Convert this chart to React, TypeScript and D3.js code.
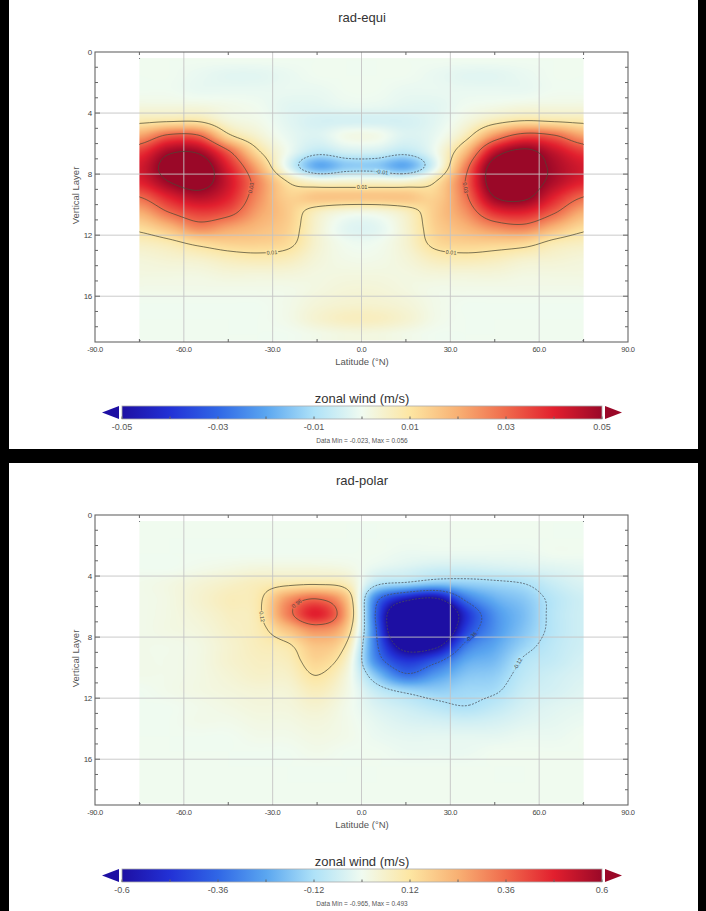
import React, { useEffect, useRef } from 'react';
import * as d3 from 'd3';

// grid the model field is stored on
const lats = [-75, -65, -55, -45, -35, -25, -15, -5, 5, 15, 25, 35, 45, 55, 65, 75];
const layers = [0.5, 1.5, 2.5, 3.5, 4.5, 5.5, 6.5, 7.5, 8.5, 9.5, 10.5, 11.5, 12.5, 13.5, 14.5, 15.5, 16.5, 17.5, 18.5];
const latExtent = [-75, 75];
const layerExtent = [0.4, 18.9];

// zonal wind, rad-equi run (x 0.001 m/s), one row per layer
const equiWind = [
  [0, 0, 0, 0, 0, 0, 0, 0, 0, 0, 0, 0, 0, 0, 0, 0],
  [0, 0, -1, -2, -2, -1, 0, 0, 0, 0, -1, -2, -2, -1, 0, 0],
  [0, 0, -1, -1, -1, -1, -1, 0, 0, -1, -1, -1, -1, -1, 0, 0],
  [2, 2, 2, 1, 0, -2, -2, -1, -1, -2, -2, 0, 1, 2, 2, 2],
  [8, 9, 9, 3, 1, -2, -4, -4, -4, -4, -2, 2, 7, 10, 9, 8],
  [22, 32, 31, 12, 4, -1, -3, 1, 1, -3, -1, 7, 24, 34, 31, 22],
  [36, 48, 48, 31, 11, 0, -7, -4, -4, -7, 0, 17, 44, 52, 44, 36],
  [42, 54, 56, 40, 20, -2, -19, -14, -14, -19, -2, 26, 55, 56, 48, 42],
  [40, 50, 54, 43, 26, 10, 4, 4, 4, 4, 10, 30, 56, 56, 47, 40],
  [30, 40, 46, 40, 25, 14, 16, 16, 16, 16, 14, 28, 50, 52, 40, 30],
  [20, 30, 36, 33, 22, 15, 6, 2, 2, 6, 15, 24, 38, 40, 31, 20],
  [12, 18, 26, 22, 18, 14, 4, -2, -2, 4, 14, 19, 25, 27, 19, 12],
  [6, 8, 12, 14, 14, 12, 4, 0, 0, 4, 12, 14, 14, 13, 8, 6],
  [3, 4, 5, 7, 8, 7, 3, 1, 1, 3, 7, 8, 7, 5, 4, 3],
  [2, 2, 2, 3, 3, 3, 2, 2, 2, 2, 3, 3, 3, 2, 2, 2],
  [1, 1, 1, 1, 1, 1, 2, 3, 3, 2, 1, 1, 1, 1, 1, 1],
  [0, 0, 0, 0, 0, 1, 3, 4, 4, 3, 1, 0, 0, 0, 0, 0],
  [0, 0, 0, 0, 0, 1, 4, 6, 6, 4, 1, 0, 0, 0, 0, 0],
  [0, 0, 0, 0, 0, 0, 1, 2, 2, 1, 0, 0, 0, 0, 0, 0],
];

// zonal wind, rad-polar run (x 0.01 m/s)
const polarWind = [
  [0, 0, 0, 0, 0, 0, 0, 0, 0, 0, 0, 0, 0, 0, 0, 0],
  [0, 0, 0, 0, 0, 0, 0, 0, 0, 0, 0, 0, 0, 0, 0, 0],
  [0, 0, 0, 0, 0, 0, 0, 0, 0, -1, -1, -1, -1, -1, 0, 0],
  [0, 0, 1, 2, 3, 3, 3, 2, -2, -4, -6, -6, -5, -4, -3, -2],
  [1, 2, 4, 6, 8, 10, 11, 8, -10, -14, -18, -16, -14, -12, -7, -4],
  [1, 2, 5, 8, 10, 28, 36, 20, -32, -55, -62, -34, -22, -17, -10, -6],
  [1, 2, 4, 7, 10, 32, 48, 24, -38, -90, -96, -50, -28, -19, -10, -6],
  [1, 2, 3, 6, 9, 20, 30, 18, -36, -92, -90, -46, -28, -18, -10, -6],
  [1, 1, 2, 5, 8, 11, 20, 11, -34, -70, -66, -34, -24, -15, -9, -6],
  [1, 1, 2, 5, 7, 8, 16, 6, -30, -48, -40, -24, -20, -11, -8, -5],
  [1, 1, 2, 4, 6, 6, 12, 3, -18, -34, -26, -18, -16, -9, -6, -4],
  [0, 1, 2, 3, 4, 4, 8, 2, -8, -14, -16, -14, -13, -7, -5, -3],
  [0, 0, 1, 2, 3, 3, 5, 1, -4, -7, -10, -12, -9, -5, -3, -2],
  [0, 0, 1, 1, 2, 2, 3, 1, -2, -4, -5, -6, -5, -3, -2, -1],
  [0, 0, 0, 0, 1, 1, 2, 1, -1, -2, -2, -2, -2, -1, -1, 0],
  [0, 0, 0, 0, 0, 0, 1, 0, 0, -1, -1, -1, 0, 0, 0, 0],
  [0, 0, 0, 0, 0, 0, 0, 0, 0, 0, 0, 0, 0, 0, 0, 0],
  [0, 0, 0, 0, 0, 0, 0, 0, 0, 0, 0, 0, 0, 0, 0, 0],
  [0, 0, 0, 0, 0, 0, 0, 0, 0, 0, 0, 0, 0, 0, 0, 0],
];

const equiTicks = [-0.05, -0.03, -0.01, 0.01, 0.03, 0.05];
const polarTicks = [-0.6, -0.36, -0.12, 0.12, 0.36, 0.6];

// where the inline contour labels sit
const equiLabels = [
  { lat: 0, layer: 9.0, level: 0.01, text: '0.01' },
  { lat: 7, layer: 7.9, level: -0.01, text: '-0.01' },
  { lat: -30, layer: 13.3, level: 0.01, text: '0.01' },
  { lat: -38, layer: 8.9, level: 0.03, text: '0.03' },
  { lat: 35, layer: 8.9, level: 0.03, text: '0.03' },
  { lat: 30, layer: 13.3, level: 0.01, text: '0.01' },
];
const polarLabels = [
  { lat: -31.6, layer: 6.6, level: 0.12, text: '0.12' },
  { lat: -20.8, layer: 6.1, level: 0.36, text: '0.36' },
  { lat: 37.3, layer: 8.0, level: -0.36, text: '-0.36' },
  { lat: 55, layer: 10, level: -0.12, text: '-0.12' },
];

// colour map (fraction of the colour bar -> colour)
const stopPos = [0, 0.1, 0.2, 0.3, 0.4, 0.5, 0.6, 0.7, 0.8, 0.9, 1];
const stopColors = ['#1d0fa3', '#2231d6', '#3067e6', '#5aa6f0', '#aee2f8', '#f0fbf0',
  '#fde6a2', '#f8b073', '#f06a4c', '#e21f2e', '#9a0828'];

const panels = [
  { title: 'rad-equi', grid: equiWind, unit: 0.001, range: 0.05, minor: 0.01, ticks: equiTicks,
    dataMin: '-0.023', dataMax: '0.056', labels: equiLabels },
  { title: 'rad-polar', grid: polarWind, unit: 0.01, range: 0.6, minor: 0.12, ticks: polarTicks,
    dataMin: '-0.965', dataMax: '0.493', labels: polarLabels },
];

const PANEL_H = 463;
const FONT = 'Liberation Sans, Arial, sans-serif';

const clamp = (v: number, a: number, b: number) => Math.max(a, Math.min(b, v));
const cubic = (p0: number, p1: number, p2: number, p3: number, t: number) =>
  p1 + 0.5 * t * (p2 - p0 + t * (2 * p0 - 5 * p1 + 4 * p2 - p3 + t * (3 * (p1 - p2) + p3 - p0)));

function sample(grid: number[][], fc: number, fr: number) {
  const nr = grid.length, nc = grid[0].length;
  fc = clamp(fc, 0, nc - 1);
  fr = clamp(fr, 0, nr - 1);
  const ic = Math.floor(fc), ir = Math.floor(fr);
  const g = (r: number, c: number) => grid[clamp(r, 0, nr - 1)][clamp(c, 0, nc - 1)];
  const rows = [-1, 0, 1, 2].map(k =>
    cubic(g(ir + k, ic - 1), g(ir + k, ic), g(ir + k, ic + 1), g(ir + k, ic + 2), fc - ic));
  return cubic(rows[0], rows[1], rows[2], rows[3], fr - ir);
}

function drawPanel(g: any, p: any, idx: number) {
  const x = d3.scaleLinear().domain([-90, 90]).range([95, 628]);
  const y = d3.scaleLinear().domain([0, 19]).range([52, 342]);

  g.append('rect').attr('x', 9).attr('y', 0).attr('width', 689).attr('height', 449).attr('fill', '#fff');
  g.append('text').attr('x', 362).attr('y', 22).attr('text-anchor', 'middle')
    .attr('font-family', FONT).attr('font-size', 13).attr('fill', '#333').text(p.title);

  const color = d3.scaleLinear<string>()
    .domain(stopPos.map(t => -p.range + 2 * p.range * t))
    .range(stopColors)
    .interpolate(d3.interpolateRgb)
    .clamp(true);

  // resample the field onto the pixels of the plot
  const x0 = x(latExtent[0]), x1 = x(latExtent[1]);
  const y0 = y(layerExtent[0]), y1 = y(layerExtent[1]);
  const nx = Math.round(x1 - x0), ny = Math.round(y1 - y0);
  const sx = (x1 - x0) / nx, sy = (y1 - y0) / ny;
  const col = d3.scaleLinear().domain([lats[0], lats[lats.length - 1]]).range([0, lats.length - 1]);
  const row = d3.scaleLinear().domain([layers[0], layers[layers.length - 1]]).range([0, layers.length - 1]);
  const values = new Float64Array(nx * ny);
  for (let j = 0; j < ny; j++) {
    const r = row(y.invert(y0 + (j + 0.5) * sy));
    for (let i = 0; i < nx; i++) {
      const c = col(x.invert(x0 + (i + 0.5) * sx));
      values[j * nx + i] = sample(p.grid, c, r) * p.unit;
    }
  }

  const lut = d3.range(512).map(k => d3.rgb(color(-p.range + (2 * p.range * k) / 511)));
  const canvas = document.createElement('canvas');
  canvas.width = nx;
  canvas.height = ny;
  const ctx = canvas.getContext('2d')!;
  const img = ctx.createImageData(nx, ny);
  for (let k = 0; k < values.length; k++) {
    const li = clamp(Math.round(((values[k] + p.range) / (2 * p.range)) * 511), 0, 511);
    const c = lut[li];
    img.data[4 * k] = c.r;
    img.data[4 * k + 1] = c.g;
    img.data[4 * k + 2] = c.b;
    img.data[4 * k + 3] = 255;
  }
  ctx.putImageData(img, 0, 0);
  g.append('image').attr('x', x0).attr('y', y0).attr('width', x1 - x0).attr('height', y1 - y0)
    .attr('preserveAspectRatio', 'none').attr('href', canvas.toDataURL());

  // grid lines
  const gridX = [-60, -30, 0, 30, 60];
  const gridY = [4, 8, 12, 16];
  g.selectAll('.gx').data(gridX).enter().append('line')
    .attr('x1', (d: number) => x(d)).attr('x2', (d: number) => x(d)).attr('y1', y(0)).attr('y2', y(19))
    .attr('stroke', '#c4c4c4').attr('stroke-width', 0.9);
  g.selectAll('.gy').data(gridY).enter().append('line')
    .attr('x1', x(-90)).attr('x2', x(90)).attr('y1', (d: number) => y(d)).attr('y2', (d: number) => y(d))
    .attr('stroke', '#c4c4c4').attr('stroke-width', 0.9);

  // contour lines, the edges of the data area left out
  const contours = d3.contours().size([nx, ny]).thresholds(p.ticks)(Array.from(values));
  const onEdge = (a: number[], b: number[]) =>
    (Math.abs(a[0] - b[0]) < 1e-6 && (a[0] < 1e-6 || a[0] > nx - 1e-6)) ||
    (Math.abs(a[1] - b[1]) < 1e-6 && (a[1] < 1e-6 || a[1] > ny - 1e-6));
  const inside = (a: number[]) => a[0] > 1e-6 && a[0] < nx - 1e-6 && a[1] > 1e-6 && a[1] < ny - 1e-6;
  const px = (a: number[]) => [x0 + a[0] * sx, y0 + a[1] * sy];

  contours.forEach((geo: any) => {
    let path = '';
    geo.coordinates.forEach((poly: number[][][]) => poly.forEach(ring => {
      let pen = false;
      for (let i = 1; i < ring.length; i++) {
        const a = ring[i - 1], b = ring[i];
        if (onEdge(a, b)) { pen = false; continue; }
        const [ax, ay] = px(a), [bx, by] = px(b);
        if (!pen) { path += `M${ax.toFixed(2)},${ay.toFixed(2)}`; pen = true; }
        path += `L${bx.toFixed(2)},${by.toFixed(2)}`;
      }
    }));
    if (!path) return;
    g.append('path').attr('d', path).attr('fill', 'none')
      .attr('stroke', geo.value < 0 ? '#4a4f5a' : '#4d4a36').attr('stroke-width', 0.9)
      .attr('stroke-opacity', 0.85)
      .attr('stroke-dasharray', geo.value < 0 ? '2,1.3' : null);
  });

  // inline labels on the contours
  p.labels.forEach((lab: any) => {
    const geo: any = contours.find((c: any) => Math.abs(c.value - lab.level) < 1e-9);
    if (!geo) return;
    const ax = x(lab.lat), ay = y(lab.layer);
    let best: any = null;
    geo.coordinates.forEach((poly: number[][][]) => poly.forEach(ring => {
      ring.forEach((pt, i) => {
        if (!inside(pt)) return;
        const [qx, qy] = px(pt);
        const dd = (qx - ax) ** 2 + (qy - ay) ** 2;
        if (!best || dd < best.dd) best = { dd, ring, i };
      });
    }));
    if (!best) return;
    const n = best.ring.length;
    const pa = px(best.ring[(best.i - 4 + n) % n]), pb = px(best.ring[(best.i + 4) % n]);
    let ang = (Math.atan2(pb[1] - pa[1], pb[0] - pa[0]) * 180) / Math.PI;
    if (ang > 90) ang -= 180;
    if (ang < -90) ang += 180;
    const [lx, ly] = px(best.ring[best.i]);
    const v = values[clamp(Math.floor((ly - y0) / sy), 0, ny - 1) * nx + clamp(Math.floor((lx - x0) / sx), 0, nx - 1)];
    const lg = g.append('g').attr('transform', `translate(${lx},${ly}) rotate(${ang})`);
    const w = lab.text.length * 3.1;
    lg.append('rect').attr('x', -w / 2).attr('y', -2.6).attr('width', w).attr('height', 5.2).attr('fill', color(v));
    lg.append('text').attr('text-anchor', 'middle').attr('dy', '0.35em').attr('font-family', FONT)
      .attr('font-size', 5.5).attr('fill', '#444').text(lab.text);
  });

  // frame, ticks and axis labels
  g.append('rect').attr('x', x(-90)).attr('y', y(0)).attr('width', x(90) - x(-90)).attr('height', y(19) - y(0))
    .attr('fill', 'none').attr('stroke', '#666').attr('stroke-width', 1.1);
  const xMajor = [-90, -60, -30, 0, 30, 60, 90];
  const xMinor = [-75, -45, -15, 15, 45, 75];
  const tick = (x1: number, y1: number, x2: number, y2: number) =>
    g.append('line').attr('x1', x1).attr('y1', y1).attr('x2', x2).attr('y2', y2).attr('stroke', '#666').attr('stroke-width', 1);
  xMinor.forEach(d => { tick(x(d), y(0), x(d), y(0) + 3); tick(x(d), y(19), x(d), y(19) - 3); });
  d3.range(1, 19).forEach(d => {
    const len = d % 4 === 0 ? 5 : 3;
    tick(x(-90), y(d), x(-90) + len, y(d));
    tick(x(90), y(d), x(90) - len, y(d));
  });
  g.selectAll('.xl').data(xMajor).enter().append('text')
    .attr('x', (d: number) => x(d)).attr('y', 352).attr('text-anchor', 'middle')
    .attr('font-family', FONT).attr('font-size', 7.5).attr('fill', '#444').attr('letter-spacing', -0.3)
    .text((d: number) => d.toFixed(1));
  g.selectAll('.yl').data([0, 4, 8, 12, 16]).enter().append('text')
    .attr('x', 92).attr('y', (d: number) => y(d) + 3).attr('text-anchor', 'end')
    .attr('font-family', FONT).attr('font-size', 8).attr('fill', '#444').attr('letter-spacing', -0.3)
    .text((d: number) => d);
  g.append('text').attr('transform', `translate(79,${y(9.4)}) rotate(-90)`).attr('text-anchor', 'middle')
    .attr('font-family', FONT).attr('font-size', 9.5).attr('fill', '#555').text('Vertical Layer');
  g.append('text').attr('x', 362).attr('y', 365).attr('text-anchor', 'middle')
    .attr('font-family', FONT).attr('font-size', 9.5).attr('fill', '#555').text('Latitude (°N)');

  // colour bar
  const cb = d3.scaleLinear().domain([-p.range, p.range]).range([122, 602]);
  const gid = `cbar${idx}`;
  const grad = g.append('defs').append('linearGradient').attr('id', gid);
  stopPos.forEach((t, k) => grad.append('stop').attr('offset', t).attr('stop-color', stopColors[k]));
  g.append('text').attr('x', 362).attr('y', 403).attr('text-anchor', 'middle')
    .attr('font-family', FONT).attr('font-size', 13).attr('fill', '#333').text('zonal wind (m/s)');
  g.append('rect').attr('x', cb(-p.range)).attr('y', 406).attr('width', cb(p.range) - cb(-p.range)).attr('height', 13)
    .attr('fill', `url(#${gid})`).attr('stroke', '#aaa').attr('stroke-width', 0.8);
  g.append('path').attr('d', `M${cb(-p.range) - 3},406 L${cb(-p.range) - 3},419 L${cb(-p.range) - 20},412.5 Z`)
    .attr('fill', stopColors[0]);
  g.append('path').attr('d', `M${cb(p.range) + 3},406 L${cb(p.range) + 3},419 L${cb(p.range) + 20},412.5 Z`)
    .attr('fill', stopColors[stopColors.length - 1]);
  const minorTicks = d3.range(-p.range, p.range + p.minor / 2, p.minor);
  minorTicks.forEach(d => tick(cb(d), 419, cb(d), 416.5));
  g.selectAll('.cl').data(p.ticks).enter().append('text')
    .attr('x', (d: number) => cb(d)).attr('y', 430).attr('text-anchor', 'middle')
    .attr('font-family', FONT).attr('font-size', 9).attr('fill', '#555')
    .text((d: number) => String(d));
  g.append('text').attr('x', 362).attr('y', 443).attr('text-anchor', 'middle')
    .attr('font-family', FONT).attr('font-size', 6.5).attr('fill', '#555')
    .text(`Data Min = ${p.dataMin}, Max = ${p.dataMax}`);
}

export default function App() {
  const svgRef = useRef<SVGSVGElement>(null);

  useEffect(() => {
    const svg = d3.select(svgRef.current);
    svg.selectAll('*').remove();
    svg.append('rect').attr('width', 706).attr('height', 911).attr('fill', '#000');
    panels.forEach((p, i) => drawPanel(svg.append('g').attr('transform', `translate(0,${i * PANEL_H})`), p, i));
  }, []);

  return <svg ref={svgRef} width={706} height={911} style={{ position: 'absolute', left: 0, top: 0 }} />;
}
